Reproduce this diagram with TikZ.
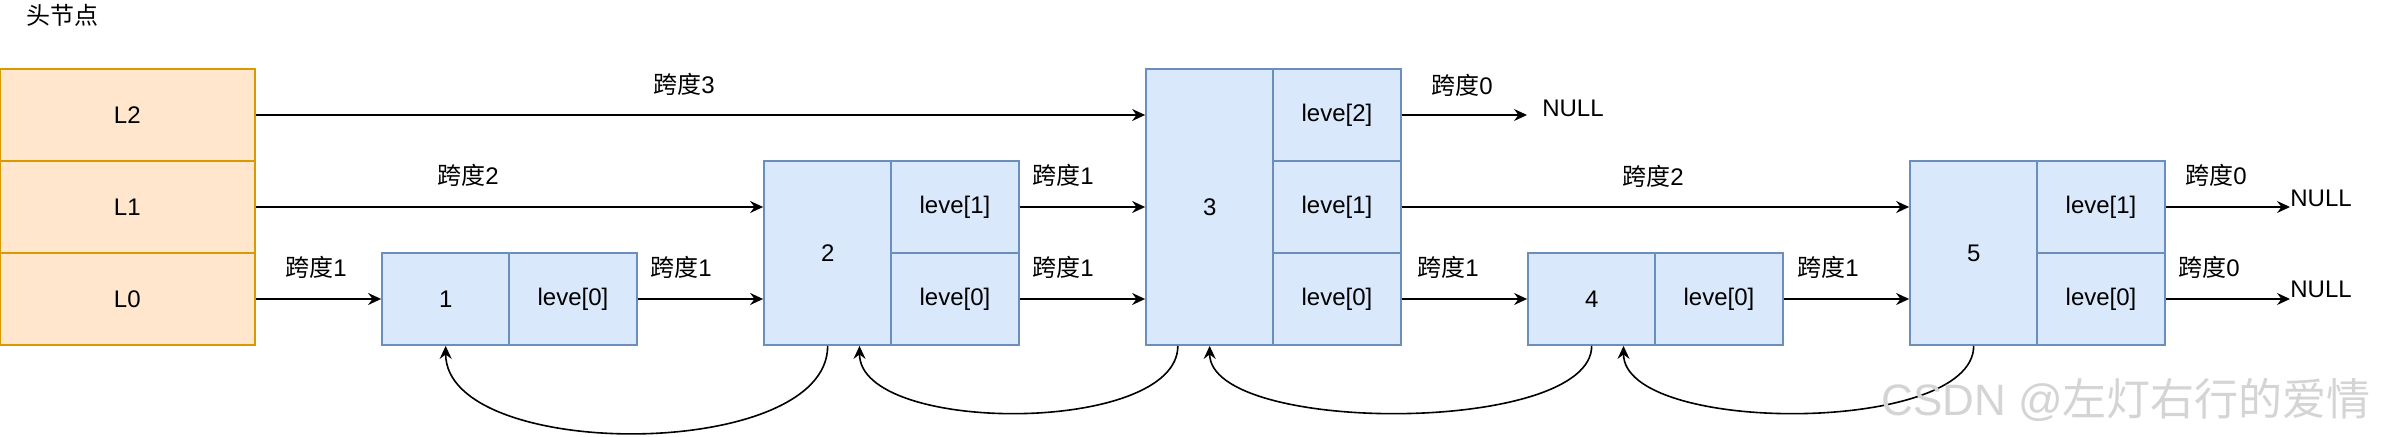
\documentclass[tikz,border=0pt]{standalone}
\usepackage{fontspec}
\setmainfont{Liberation Sans}
\newfontfamily\cjk{Noto Sans CJK SC}
\usetikzlibrary{arrows.meta}
\definecolor{orF}{HTML}{FFE6CC}
\definecolor{orS}{HTML}{D79B00}
\definecolor{blF}{HTML}{DAE8FC}
\definecolor{blS}{HTML}{6C8EBF}
\definecolor{wm}{HTML}{D4D4D4}
\tikzset{
  base/.style={line width=0.9pt, inner sep=0pt, font=\fontsize{12}{14.4}\selectfont, minimum width=63.67pt},
  headcell/.style={base, draw=orS, fill=orF, minimum width=127.33pt, minimum height=46pt},
  cell/.style={base, draw=blS, fill=blF, minimum height=46pt},
  tallb/.style={cell, minimum height=92pt},
  tallc/.style={cell, minimum height=138pt},
  arr/.style={-{Stealth[length=6.5pt,width=6pt,inset=2.2pt]}, line width=0.8pt},
  lbl/.style={font=\fontsize{12}{14.4}\selectfont, inner sep=0pt},
}
\newcommand{\kd}[1]{{\cjk 跨度}#1}
\begin{document}
\begin{tikzpicture}[x=0.5pt,y=-0.5pt]
\useasboundingbox (0,0) rectangle (2387,437);

% head node
\node[lbl] (title) at (62,15) {\cjk 头节点};
\node[headcell] (h2) at (127.33,115) {L2};
\node[headcell] (h1) at (127.33,207) {L1};
\node[headcell] (h0) at (127.33,299) {L0};

% node 1
\node[cell] (n1)  at (445.67,299) {1};
\node[cell] (n1r) at (573,299) {leve[0]};
% node 2
\node[tallb] (n2)  at (827.67,253) {2};
\node[cell]  (n2a) at (955,207) {leve[1]};
\node[cell]  (n2b) at (955,299) {leve[0]};
% node 3
\node[tallc] (n3)  at (1209.67,207) {3};
\node[cell]  (n3c) at (1337,115) {leve[2]};
\node[cell]  (n3a) at (1337,207) {leve[1]};
\node[cell]  (n3b) at (1337,299) {leve[0]};
% node 4
\node[cell] (n4)  at (1591.67,299) {4};
\node[cell] (n4r) at (1719,299) {leve[0]};
% node 5
\node[tallb] (n5)  at (1973.67,253) {5};
\node[cell]  (n5a) at (2101,207) {leve[1]};
\node[cell]  (n5b) at (2101,299) {leve[0]};

% NULL targets
\coordinate (e1) at (1527,115);
\coordinate (e2) at (2290,207);
\coordinate (e3) at (2290,299);
\node[lbl] (null1) at (1573,108) {NULL};
\node[lbl] (null2) at (2321,198) {NULL};
\node[lbl] (null3) at (2321,289) {NULL};

% forward pointers
\draw[arr] (h2.east) -- (h2 -| n3.west);
\draw[arr] (h1.east) -- (h1 -| n2.west);
\draw[arr] (h0.east) -- (n1.west);
\draw[arr] (n1r.east) -- (n1r -| n2.west);
\draw[arr] (n2a.east) -- (n2a -| n3.west);
\draw[arr] (n2b.east) -- (n2b -| n3.west);
\draw[arr] (n3c.east) -- (e1);
\draw[arr] (n3a.east) -- (n3a -| n5.west);
\draw[arr] (n3b.east) -- (n4.west);
\draw[arr] (n4r.east) -- (n4r -| n5.west);
\draw[arr] (n5a.east) -- (e2);
\draw[arr] (n5b.east) -- (e3);

% span labels
\node[lbl] (s1) at (684,84) {\kd{3}};
\node[lbl] (s2) at (468,175) {\kd{2}};
\node[lbl] (s3) at (316,267) {\kd{1}};
\node[lbl] (s4) at (681,267) {\kd{1}};
\node[lbl] (s5) at (1063,175) {\kd{1}};
\node[lbl] (s6) at (1063,267) {\kd{1}};
\node[lbl] (s7) at (1462,85) {\kd{0}};
\node[lbl] (s8) at (1653,176) {\kd{2}};
\node[lbl] (s9) at (1448,267) {\kd{1}};
\node[lbl] (s10) at (1828,267) {\kd{1}};
\node[lbl] (s11) at (2216,175) {\kd{0}};
\node[lbl] (s12) at (2209,267) {\kd{0}};

% backward pointers
\draw[arr] (n2.south) .. controls +(0,116) and +(0,116) .. (n1.south);
\draw[arr] ([xshift=-15.92pt]n3.south) .. controls +(0,89) and +(0,89) .. ([xshift=15.92pt]n2.south);
\draw[arr] (n4.south) .. controls +(0,89) and +(0,89) .. (n3.south);
\draw[arr] (n5.south) .. controls +(0,89) and +(0,89) .. ([xshift=15.92pt]n4.south);

% watermark
\node[lbl, text=wm, font=\fontsize{22}{26}\selectfont] (wmk) at (2126,400) {CSDN @{\cjk 左灯右行的爱情}};
\end{tikzpicture}
\end{document}
